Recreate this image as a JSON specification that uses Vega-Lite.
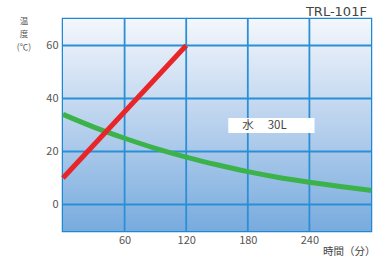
{
  "$schema": "https://vega.github.io/schema/vega-lite/v6.json",
  "width": 308,
  "height": 212,
  "autosize": "none",
  "padding": {"left": 63, "top": 19, "right": 5, "bottom": 25},
  "background": "white",
  "config": {
    "view": {"stroke": "#1f88d2", "strokeWidth": 2.5},
    "font": "Noto Sans CJK JP"
  },
  "datasets": {
    "bg": [{"a": 1}],
    "gridx": [{"t": 60}, {"t": 120}, {"t": 180}, {"t": 240}],
    "gridy": [{"v": 0}, {"v": 20}, {"v": 40}, {"v": 60}],
    "red": [{"t": 0, "v": 10}, {"t": 120, "v": 60}],
    "green": [
      {"t": 0, "v": 34}, {"t": 30, "v": 29.2}, {"t": 60, "v": 25}, {"t": 90, "v": 21.2},
      {"t": 120, "v": 17.9}, {"t": 150, "v": 15}, {"t": 180, "v": 12.4}, {"t": 210, "v": 10.2},
      {"t": 240, "v": 8.4}, {"t": 270, "v": 6.8}, {"t": 300, "v": 5.3}
    ],
    "label": [{"t0": 161, "t1": 245, "v0": 27, "v1": 32.6, "tx": 174.5, "ty": 29.8, "text": "水　 30L"}],
    "ytitle": [{"t": -38, "v": 69.2, "text": "温"}, {"t": -38, "v": 64.3, "text": "度"}, {"t": -38, "v": 59.6, "text": "(℃)"}],
    "model": [{"t": 296, "v": 71.1, "text": "TRL-101F"}]
  },
  "encoding": {
    "x": {"type": "quantitative", "scale": {"domain": [0, 300], "nice": false}},
    "y": {"type": "quantitative", "scale": {"domain": [-10, 70], "nice": false}}
  },
  "layer": [
    {
      "data": {"name": "bg"},
      "mark": {"type": "rect", "fill": {"gradient": "linear", "x1": 0, "y1": 0, "x2": 0, "y2": 1, "stops": [{"offset": 0, "color": "#f4f7fc"}, {"offset": 0.5, "color": "#b8d1ed"}, {"offset": 1, "color": "#78abde"}]}},
      "encoding": {
        "x": {"datum": 0, "type": "quantitative", "axis": {"values": [60, 120, 180, 240], "title": "時間（分）", "grid": false, "domain": false, "ticks": false, "labelPadding": 3, "labelFontSize": 11, "labelColor": "#555", "titleFontSize": 10.5, "titleFontWeight": "normal", "titleColor": "#444", "titleAlign": "right", "titleAnchor": null, "titleX": 312, "titleY": 20, "titleBaseline": "middle"}},
        "x2": {"datum": 300},
        "y": {"datum": -10, "type": "quantitative", "axis": {"values": [0, 20, 40, 60], "title": null, "grid": false, "domain": false, "ticks": false, "labelPadding": 5, "labelFontSize": 11, "labelColor": "#555"}},
        "y2": {"datum": 70}
      }
    },
    {
      "data": {"name": "gridx"},
      "mark": {"type": "rule", "color": "#2b8fd6", "strokeWidth": 1.8},
      "encoding": {"x": {"field": "t", "type": "quantitative"}}
    },
    {
      "data": {"name": "gridy"},
      "mark": {"type": "rule", "color": "#2b8fd6", "strokeWidth": 1.8},
      "encoding": {"y": {"field": "v", "type": "quantitative"}}
    },
    {
      "data": {"name": "label"},
      "mark": {"type": "rect", "color": "white", "opacity": 1},
      "encoding": {
        "x": {"field": "t0", "type": "quantitative"}, "x2": {"field": "t1"},
        "y": {"field": "v0", "type": "quantitative"}, "y2": {"field": "v1"}
      }
    },
    {
      "data": {"name": "label"},
      "mark": {"type": "text", "align": "left", "baseline": "middle", "fontSize": 11.5, "color": "#444"},
      "encoding": {
        "x": {"field": "tx", "type": "quantitative"},
        "y": {"field": "ty", "type": "quantitative"},
        "text": {"field": "text"}
      }
    },
    {
      "data": {"name": "ytitle"},
      "mark": {"type": "text", "align": "center", "baseline": "middle", "fontSize": 8.5, "color": "#555"},
      "encoding": {
        "x": {"field": "t", "type": "quantitative"},
        "y": {"field": "v", "type": "quantitative"},
        "text": {"field": "text"}
      }
    },
    {
      "data": {"name": "model"},
      "mark": {"type": "text", "align": "right", "baseline": "alphabetic", "font": "DejaVu Sans", "fontSize": 13, "color": "#444"},
      "encoding": {
        "x": {"field": "t", "type": "quantitative"},
        "y": {"field": "v", "type": "quantitative"},
        "text": {"field": "text"}
      }
    },
    {
      "data": {"name": "green"},
      "mark": {"type": "line", "color": "#3bb34a", "strokeWidth": 5, "interpolate": "monotone"},
      "encoding": {"x": {"field": "t", "type": "quantitative"}, "y": {"field": "v", "type": "quantitative"}}
    },
    {
      "data": {"name": "red"},
      "mark": {"type": "line", "color": "#e8262a", "strokeWidth": 5},
      "encoding": {"x": {"field": "t", "type": "quantitative"}, "y": {"field": "v", "type": "quantitative"}}
    }
  ]
}
